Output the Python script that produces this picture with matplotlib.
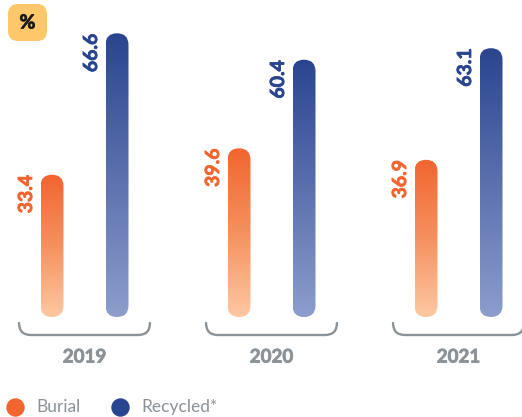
import matplotlib
matplotlib.use("Agg")
import matplotlib.pyplot as plt
import matplotlib.patheffects as pe
import numpy as np
from matplotlib.colors import LinearSegmentedColormap
from matplotlib.patches import FancyBboxPatch, PathPatch
from matplotlib.path import Path
from matplotlib.transforms import IdentityTransform

years = ["2019", "2020", "2021"]
burial = [33.4, 39.6, 36.9]
recycled = [66.6, 60.4, 63.1]
series_names = ["Burial", "Recycled*"]

ORANGE = "#f2652f"
NAVY = "#2a458f"
GRAY = "#8b9298"

W, H = 522, 417
fig = plt.figure(figsize=(W / 100, H / 100), dpi=100)
ax = fig.add_axes([0, 0, 1, 1])

# pixel scale: 187 px between groups, 4.26 px per percentage point
px_x = 187.0
px_y = 4.26
x0_px = 84.5
base_px = 317.0
ax.set_xlim(-x0_px / px_x, (W - x0_px) / px_x)
ax.set_ylim(-(H - base_px) / px_y, base_px / px_y)
ax.axis("off")

bar_w = 23 / px_x
offset = 32.5 / px_x
aspect = px_x / px_y

cmap_orange = LinearSegmentedColormap.from_list("o", ["#fdc8a2", "#f5915f", ORANGE])
cmap_navy = LinearSegmentedColormap.from_list("n", ["#8c9ecc", "#5b70ad", NAVY])


def heavy(color):
    # thicken the bold face a little
    return [pe.withStroke(linewidth=0.55, foreground=color)]


def gradient_bar(xc, value, cmap):
    left = xc - bar_w / 2
    patch = FancyBboxPatch((left, 0), bar_w, value,
                           boxstyle=f"round,pad=0,rounding_size={bar_w / 2}",
                           mutation_aspect=aspect, fc="none", ec="none")
    ax.add_patch(patch)
    grad = np.linspace(0, 1, 256).reshape(-1, 1)
    im = ax.imshow(grad, cmap=cmap, origin="lower", aspect="auto",
                   extent=[left, left + bar_w, 0, value], interpolation="bilinear")
    im.set_clip_path(patch)


def bracket(xc):
    half = 0.35
    top, bottom = -6 / px_y, -18 / px_y
    rx, ry = 12 / px_x, 12 / px_y
    verts = [(xc - half, top), (xc - half, bottom + ry),
             (xc - half, bottom), (xc - half + rx, bottom),
             (xc + half - rx, bottom),
             (xc + half, bottom), (xc + half, bottom + ry),
             (xc + half, top)]
    codes = [Path.MOVETO, Path.LINETO, Path.CURVE3, Path.CURVE3, Path.LINETO,
             Path.CURVE3, Path.CURVE3, Path.LINETO]
    ax.add_patch(PathPatch(Path(verts, codes), fc="none", ec=GRAY, lw=1.7,
                           capstyle="round"))


label_dx = 25.5 / px_x
for i, year in enumerate(years):
    xb = i - offset
    xr = i + offset
    gradient_bar(xb, burial[i], cmap_orange)
    gradient_bar(xr, recycled[i], cmap_navy)
    ax.text(xb - label_dx, burial[i], f"{burial[i]:.1f}", rotation=90,
            ha="center", va="top", color=ORANGE, fontsize=14,
            fontweight="bold", family="Lato", path_effects=heavy(ORANGE))
    ax.text(xr - label_dx, recycled[i], f"{recycled[i]:.1f}", rotation=90,
            ha="center", va="top", color=NAVY, fontsize=14,
            fontweight="bold", family="Lato", path_effects=heavy(NAVY))
    bracket(i)
    ax.text(i, -40 / px_y, year, ha="center", va="center", color=GRAY,
            fontsize=13.5, fontweight="bold", family="Lato",
            path_effects=heavy(GRAY))

# legend
leg_y = -90 / px_y
for xp, name, col in [(15, series_names[0], ORANGE), (120, series_names[1], NAVY)]:
    xd = (xp - x0_px) / px_x
    ax.scatter([xd], [leg_y], s=150, color=col, clip_on=False, zorder=3)
    ax.text(xd + 21 / px_x, leg_y, name, ha="left", va="center", color=GRAY,
            fontsize=12.5, family="Lato")

# percent badge in the corner
badge = FancyBboxPatch((8, H - 41), 39, 37, boxstyle="round,pad=0,rounding_size=10",
                       fc="#fec76a", ec="none", transform=IdentityTransform())
fig.add_artist(badge)
fig.text(27.5 / W, 1 - 23 / H, "%", ha="center", va="center", fontsize=14,
         fontweight="bold", family="Lato", color="#1a1a1a",
         path_effects=heavy("#1a1a1a"))

fig.savefig("out.png", dpi=100)
